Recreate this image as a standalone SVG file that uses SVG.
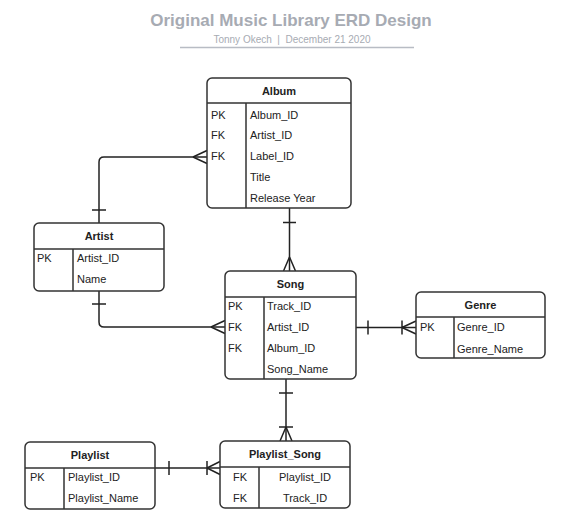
<svg xmlns="http://www.w3.org/2000/svg" width="566" height="524" viewBox="0 0 566 524">
<style>
.box{fill:#fff;stroke:#333;stroke-width:1.5}
.ln{fill:none;stroke:#333;stroke-width:1.5}
.hd{font-family:"Liberation Sans",Arial,sans-serif;font-size:11px;font-weight:bold;fill:#222;text-anchor:middle}
.tx{font-family:"Liberation Sans",Arial,sans-serif;font-size:11px;fill:#222}
.mid{text-anchor:middle}
.conn{fill:none;stroke:#222;stroke-width:1.5}
</style>
<rect width="566" height="524" fill="#fff"/>
<g id="title">
<text x="291" y="26" style="font-family:'Liberation Sans',Arial,sans-serif;font-size:17px;font-weight:bold;fill:#a7abb3" text-anchor="middle">Original Music Library ERD Design</text>
<text x="292" y="43" xml:space="preserve" style="font-family:'Liberation Sans',Arial,sans-serif;font-size:10px;fill:#a7abb3;white-space:pre" text-anchor="middle">Tonny Okech  |  December 21 2020</text>
<line x1="180" y1="47.5" x2="414" y2="47.5" stroke="#b8bcc4" stroke-width="1.5"/>
</g>
<g id="connectors">
<path class="conn" d="M99,223 V162 Q99,157 104,157 H207"/>
<path class="conn" d="M92,210 H106 M193,157 L207,150.5 M193,157 L207,163.5"/>
<path class="conn" d="M99,291 V322 Q99,327 104,327 H225"/>
<path class="conn" d="M92,304 H106 M211,327 L225,320.5 M211,327 L225,333.5"/>
<path class="conn" d="M289.5,208 V271"/>
<path class="conn" d="M283,222.5 H296 M289.5,257 L283.5,271 M289.5,257 L295.5,271"/>
<path class="conn" d="M356,327.5 H416"/>
<path class="conn" d="M368,320.5 V334.5 M402,320.5 V334.5 M402,327.5 L416,321 M402,327.5 L416,334"/>
<path class="conn" d="M286,379 V441"/>
<path class="conn" d="M279,393 H293 M279,427 H293 M286,427 L280,441 M286,427 L292,441"/>
<path class="conn" d="M155,468 H220"/>
<path class="conn" d="M169,461 V475 M207,461 V475 M207,468 L220,461.5 M207,468 L220,474.5"/>
</g>
<g id="album">
<rect class="box" x="207" y="78" width="144" height="130" rx="5"/>
<path class="ln" d="M207,103 H351 M246,103 V208"/>
<text class="hd" x="279" y="94.5">Album</text>
<text class="tx" x="211" y="118.5">PK</text>
<text class="tx" x="211" y="139">FK</text>
<text class="tx" x="211" y="160">FK</text>
<text class="tx" x="250" y="118.5">Album_ID</text>
<text class="tx" x="250" y="139">Artist_ID</text>
<text class="tx" x="250" y="160">Label_ID</text>
<text class="tx" x="250" y="181">Title</text>
<text class="tx" x="250" y="202">Release Year</text>
</g>
<g id="artist">
<rect class="box" x="34" y="223" width="130" height="68" rx="5"/>
<path class="ln" d="M34,249 H164 M73,249 V291"/>
<text class="hd" x="99" y="240">Artist</text>
<text class="tx" x="37" y="262">PK</text>
<text class="tx" x="77" y="262">Artist_ID</text>
<text class="tx" x="77" y="283">Name</text>
</g>
<g id="song">
<rect class="box" x="225" y="271" width="131" height="108" rx="5"/>
<path class="ln" d="M225,297 H356 M264,297 V379"/>
<text class="hd" x="290.5" y="288">Song</text>
<text class="tx" x="228" y="310">PK</text>
<text class="tx" x="228" y="331">FK</text>
<text class="tx" x="228" y="351.5">FK</text>
<text class="tx" x="267" y="310">Track_ID</text>
<text class="tx" x="267" y="331">Artist_ID</text>
<text class="tx" x="267" y="351.5">Album_ID</text>
<text class="tx" x="267" y="372.5">Song_Name</text>
</g>
<g id="genre">
<rect class="box" x="416" y="292" width="129" height="66" rx="5"/>
<path class="ln" d="M416,317 H545 M454,317 V358"/>
<text class="hd" x="480.5" y="308.5">Genre</text>
<text class="tx" x="420" y="331">PK</text>
<text class="tx" x="457" y="331">Genre_ID</text>
<text class="tx" x="457" y="352.5">Genre_Name</text>
</g>
<g id="playlist_song">
<rect class="box" x="220" y="441" width="130" height="67" rx="5"/>
<path class="ln" d="M220,467 H350 M259,467 V508"/>
<text class="hd" x="285" y="458">Playlist_Song</text>
<text class="tx" x="233" y="481">FK</text>
<text class="tx" x="233" y="501.5">FK</text>
<text class="tx mid" x="305" y="481">Playlist_ID</text>
<text class="tx mid" x="305" y="501.5">Track_ID</text>
</g>
<g id="playlist">
<rect class="box" x="25" y="442" width="130" height="67" rx="5"/>
<path class="ln" d="M25,468 H155 M64,468 V509"/>
<text class="hd" x="90" y="459">Playlist</text>
<text class="tx" x="30" y="481">PK</text>
<text class="tx" x="68" y="481">Playlist_ID</text>
<text class="tx" x="68" y="502">Playlist_Name</text>
</g>
</svg>
